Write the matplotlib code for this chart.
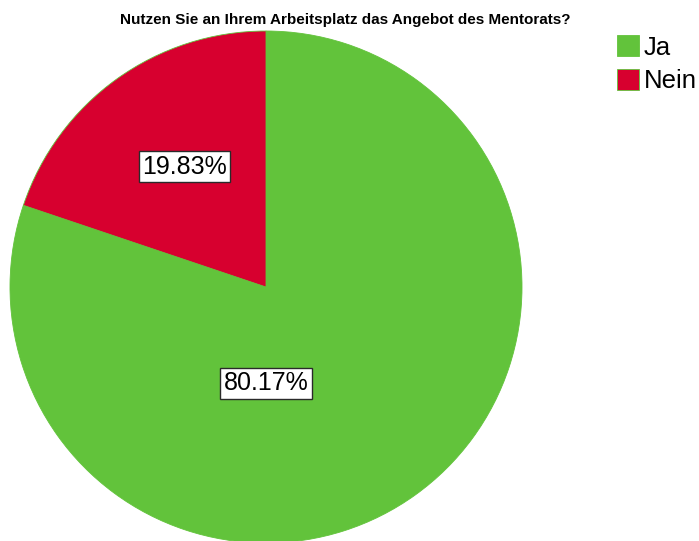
import matplotlib
matplotlib.use("Agg")
import matplotlib.pyplot as plt

categories = ["Ja", "Nein"]
values = [80.17, 19.83]
colors = ["#62c33b", "#d7002f"]
title = "Nutzen Sie an Ihrem Arbeitsplatz das Angebot des Mentorats?"

plt.rcParams['font.family'] = ['Liberation Sans', 'DejaVu Sans']

W, H = 699, 541
fig = plt.figure(figsize=(W / 100, H / 100), dpi=100)
ax = fig.add_axes([0, 0, 1, 1])
cx, cy, R = 266, 287, 256

wedges, _ = ax.pie(values, colors=colors, startangle=90, counterclock=False,
                   radius=1.0, center=(0, 0), frame=True,
                   wedgeprops=dict(edgecolor=colors[0], linewidth=0.6))
ax.set_xlim(-cx / R, (W - cx) / R)
ax.set_ylim(-(H - cy) / R, cy / R)
ax.set_aspect('auto')
ax.axis('off')

label_pos = [(0.0, -0.375), (-0.318, 0.47)]
for (x, y), v in zip(label_pos, values):
    ax.text(x, y, f"{v:.2f}%", ha='center', va='center', fontsize=18,
            bbox=dict(boxstyle='square,pad=0.14', fc='white', ec='#2a2a2a', lw=1))

fig.text(345 / W, 1 - 20 / H, title, ha='center', va='center', fontsize=11, fontweight='bold')

leg = fig.legend(wedges, categories, loc='upper left', bbox_to_anchor=(617 / W, 1 - 35 / H),
                 frameon=False, fontsize=18.5, handlelength=0.85, handleheight=0.9,
                 handletextpad=0.2, labelspacing=0.35, borderpad=0, borderaxespad=0)
fig.savefig("out.png", dpi=100)
